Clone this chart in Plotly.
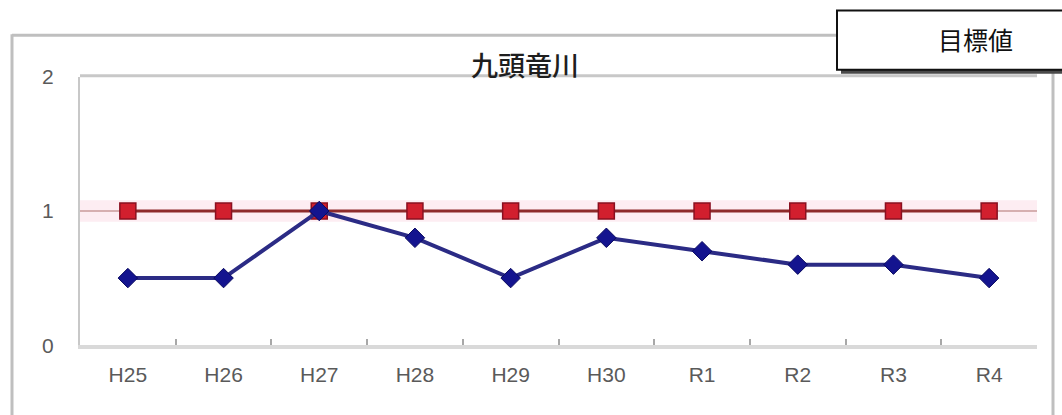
import plotly.graph_objects as go

W, H = 1062, 415

categories = ["H25", "H26", "H27", "H28", "H29", "H30", "R1", "R2", "R3", "R4"]
measured = [0.5, 0.5, 1.0, 0.8, 0.5, 0.8, 0.7, 0.6, 0.6, 0.5]
target = [1, 1, 1, 1, 1, 1, 1, 1, 1, 1]
y_ticks = [0, 1, 2]
title_text = "九頭竜川"
box_text = "目標値"

# effective drawing area observed in the viewer (vertical offset / height)
TOP_OFF, EFF_H = 9.6, 395.8


def px(x):
    return x / W


def py(y):
    return 1 - (y - TOP_OFF) / EFF_H


fig = go.Figure()

fig.add_trace(go.Scatter(
    x=categories, y=target, mode="lines+markers",
    line=dict(color="#8e2b2b", width=3),
    marker=dict(symbol="square", size=16, color="#d21f2e",
                line=dict(color="#8a1020", width=1.5)),
    showlegend=False, hoverinfo="skip",
))
fig.add_trace(go.Scatter(
    x=categories, y=measured, mode="lines+markers",
    line=dict(color="#2b2b85", width=4),
    marker=dict(symbol="diamond", size=15, color="#14148f",
                line=dict(color="#0a0a60", width=1)),
    showlegend=False, hoverinfo="skip",
))

shapes = []
shapes.append(dict(type="rect", xref="x domain", yref="y", x0=0, x1=1, y0=0.92, y1=1.08,
                   fillcolor="#fdedf2", line=dict(width=0), layer="below"))
shapes.append(dict(type="line", xref="x domain", yref="y", x0=0, x1=1, y0=1, y1=1,
                   line=dict(color="#c99a9a", width=1.5), layer="below"))
shapes.append(dict(type="line", xref="paper", yref="paper", x0=px(80), x1=px(1037),
                   y0=py(74), y1=py(74), line=dict(color="#c8c8c8", width=3)))
frame = "#bfbfbf"
shapes.append(dict(type="line", xref="paper", yref="paper", x0=px(12), x1=px(12),
                   y0=py(32), y1=py(420), line=dict(color=frame, width=3)))
shapes.append(dict(type="line", xref="paper", yref="paper", x0=px(12), x1=px(1053),
                   y0=py(33), y1=py(33), line=dict(color=frame, width=3)))
shapes.append(dict(type="line", xref="paper", yref="paper", x0=px(1053), x1=px(1053),
                   y0=py(32), y1=py(420), line=dict(color=frame, width=3)))
shapes.append(dict(type="rect", xref="paper", yref="paper", x0=px(841), x1=px(1075),
                   y0=py(12), y1=py(72), fillcolor="#4a4a4a", line=dict(width=0)))
shapes.append(dict(type="rect", xref="paper", yref="paper", x0=px(837), x1=px(1075),
                   y0=py(8), y1=py(68), fillcolor="white",
                   line=dict(color="#111111", width=2)))

fig.update_layout(
    width=W, height=H,
    margin=dict(l=0, r=0, t=0, b=0),
    paper_bgcolor="white", plot_bgcolor="white",
    shapes=shapes,
    annotations=[
        dict(text=title_text, xref="paper", yref="paper", x=px(525), y=py(63),
             showarrow=False, xanchor="center", yanchor="middle",
             font=dict(family="Noto Sans CJK JP", size=27, color="#1e1e1e", weight=500)),
        dict(text=box_text, xref="paper", yref="paper", x=px(975), y=py(37),
             showarrow=False, xanchor="center", yanchor="middle",
             font=dict(family="Noto Sans CJK JP", size=25, color="#111111")),
    ],
    xaxis=dict(
        domain=[px(80), px(1037)],
        type="category", range=[-0.5, 9.5],
        showgrid=False, zeroline=False,
        showline=True, linecolor="#d9d9d9", linewidth=4,
        ticks="inside", tickson="boundaries", ticklen=6, tickcolor="#a8a8a8", tickwidth=1.5,
        tickfont=dict(family="Liberation Sans, Arial", size=21, color="#5a5a5a"),
        ticklabelstandoff=8,
        fixedrange=True,
    ),
    yaxis=dict(
        domain=[py(346), py(75)],
        range=[0, 2], tickvals=y_ticks, ticktext=[str(v) for v in y_ticks],
        showgrid=False, zeroline=False,
        showline=True, linecolor="#c8c8c8", linewidth=2,
        ticks="",
        tickfont=dict(family="Liberation Sans, Arial", size=21, color="#5a5a5a"),
        ticklabelstandoff=20,
        fixedrange=True,
    ),
)

fig.write_html("out.html")
